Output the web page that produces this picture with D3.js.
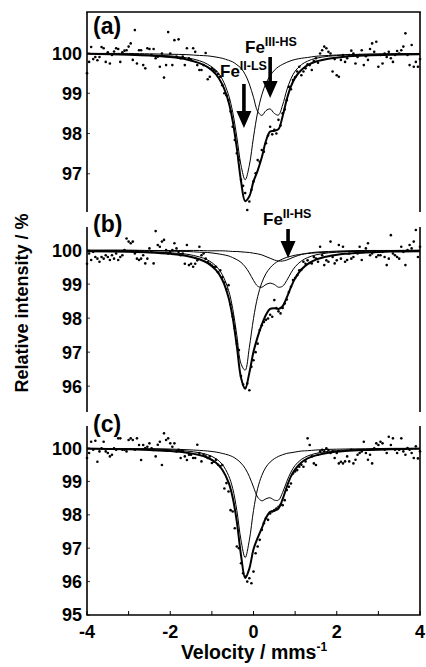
<!DOCTYPE html>
<html>
<head>
<meta charset="utf-8">
<script src="https://cdn.jsdelivr.net/npm/d3@7"></script>
<style>
  html, body { margin: 0; padding: 0; background: #fff; }
  svg { display: block; }
  text { font-family: "Liberation Sans", Arial, Helvetica, sans-serif; font-weight: bold; fill: #000; }
</style>
</head>
<body>
<svg id="chart" width="426" height="667"></svg>
<script>
// Mössbauer spectra: velocity grid of the fitted curves (mm/s)
const fitVelocity = [-4, -3, -2.5, -2, -1.6, -1.3, -1.1, -0.9, -0.75, -0.6, -0.5, -0.4, -0.3, -0.2, -0.1, 0,
  0.1, 0.2, 0.3, 0.4, 0.5, 0.6, 0.7, 0.8, 0.9, 1.0, 1.15, 1.3, 1.5, 1.8, 2.2, 2.7, 3.3, 4];

// (a) fitted sub-spectra and envelope (relative intensity, %)
const aLowSpinFe2 = [99.98, 99.97, 99.95, 99.93, 99.88, 99.81, 99.72, 99.57, 99.35, 98.96, 98.53, 97.91, 97.21, 96.85, 97.21, 97.91,
  98.53, 98.96, 99.25, 99.44, 99.57, 99.66, 99.72, 99.77, 99.81, 99.84, 99.87, 99.89, 99.92, 99.94, 99.96, 99.97, 99.98, 99.99];
const aHighSpinFe3 = [99.99, 99.99, 99.98, 99.97, 99.96, 99.94, 99.93, 99.90, 99.87, 99.82, 99.78, 99.71, 99.62, 99.47, 99.23, 98.90,
  98.55, 98.45, 98.57, 98.61, 98.50, 98.46, 98.71, 99.08, 99.36, 99.55, 99.71, 99.80, 99.87, 99.92, 99.95, 99.97, 99.98, 99.99];
const aEnvelope = [99.98, 99.96, 99.94, 99.90, 99.84, 99.75, 99.65, 99.47, 99.22, 98.79, 98.31, 97.63, 96.82, 96.32, 96.44, 96.81,
  97.08, 97.41, 97.82, 98.05, 98.07, 98.11, 98.43, 98.85, 99.17, 99.39, 99.58, 99.70, 99.79, 99.86, 99.91, 99.94, 99.96, 99.97];

// (b)
const bLowSpinFe2 = [99.98, 99.97, 99.95, 99.92, 99.88, 99.80, 99.71, 99.53, 99.28, 98.82, 98.28, 97.49, 96.66, 96.47, 97.14, 97.99,
  98.63, 99.04, 99.31, 99.48, 99.60, 99.68, 99.74, 99.79, 99.82, 99.85, 99.88, 99.90, 99.92, 99.94, 99.96, 99.97, 99.98, 99.99];
const bHighSpinFe3 = [99.99, 99.99, 99.98, 99.97, 99.96, 99.94, 99.93, 99.90, 99.87, 99.83, 99.78, 99.72, 99.64, 99.51, 99.33, 99.11,
  98.94, 98.91, 98.99, 99.03, 98.99, 98.91, 98.94, 99.11, 99.33, 99.51, 99.68, 99.78, 99.86, 99.92, 99.95, 99.97, 99.98, 99.99];
const bHighSpinFe2 = [100.00, 100.00, 99.99, 99.99, 99.99, 99.99, 99.98, 99.98, 99.98, 99.97, 99.96, 99.96, 99.95, 99.94, 99.93, 99.91,
  99.89, 99.86, 99.81, 99.76, 99.71, 99.68, 99.68, 99.71, 99.76, 99.81, 99.87, 99.91, 99.94, 99.96, 99.98, 99.99, 99.99, 100.00];
const bEnvelope = [99.97, 99.95, 99.93, 99.89, 99.83, 99.73, 99.62, 99.41, 99.13, 98.61, 98.02, 97.17, 96.25, 95.92, 96.39, 97.01,
  97.45, 97.81, 98.10, 98.27, 98.29, 98.27, 98.35, 98.61, 98.91, 99.17, 99.43, 99.59, 99.72, 99.82, 99.89, 99.93, 99.96, 99.97];

// (c)
const cLowSpinFe2 = [99.99, 99.98, 99.97, 99.95, 99.91, 99.86, 99.80, 99.68, 99.51, 99.18, 98.79, 98.13, 97.24, 96.72, 97.24, 98.13,
  98.79, 99.18, 99.43, 99.58, 99.68, 99.75, 99.80, 99.84, 99.86, 99.88, 99.91, 99.92, 99.94, 99.96, 99.97, 99.98, 99.99, 99.99];
const cHighSpinFe3 = [99.99, 99.98, 99.98, 99.97, 99.95, 99.93, 99.91, 99.88, 99.84, 99.79, 99.74, 99.66, 99.55, 99.39, 99.15, 98.83,
  98.53, 98.42, 98.48, 98.51, 98.44, 98.44, 98.67, 99.00, 99.28, 99.48, 99.66, 99.76, 99.84, 99.90, 99.94, 99.96, 99.98, 99.99];
const cEnvelope = [99.98, 99.96, 99.94, 99.91, 99.86, 99.79, 99.71, 99.56, 99.35, 98.97, 98.52, 97.79, 96.79, 96.11, 96.39, 96.97,
  97.31, 97.60, 97.91, 98.09, 98.12, 98.19, 98.47, 98.84, 99.15, 99.36, 99.57, 99.69, 99.78, 99.86, 99.91, 99.94, 99.96, 99.98];

// Measured channels: -4 ... 4 mm/s in 0.05 mm/s steps
const channelVelocity = d3.range(161).map(i => Math.round((-4 + i * 0.05) * 100) / 100);

const aMeasured = [
  99.50, 99.78, 100.15, 99.85, 99.90, 99.82, 99.90, 100.15, 100.12, 99.78,
  100.02, 99.74, 99.95, 100.04, 100.12, 100.10, 99.78, 100.02, 100.06, 100.07,
  100.16, 100.24, 99.83, 100.57, 99.74, 100.07, 100.07, 99.70, 99.62, 100.12,
  100.10, 99.95, 100.10, 99.87, 99.91, 99.66, 99.99, 99.39, 99.70, 100.52,
  99.99, 99.70, 100.32, 99.91, 100.34, 99.87, 99.91, 99.70, 100.12, 99.87,
  99.83, 100.12, 100.03, 99.70, 99.58, 99.58, 99.70, 100.00, 99.35, 99.41,
  99.62,
  99.58, 99.54, 99.48, 99.41, 99.20, 99.00, 98.95, 98.83, 98.55, 98.17,
  97.84, 97.51, 97.34, 96.85, 96.70, 96.52, 96.10, 96.31, 96.60, 96.81,
  97.01, 97.34, 97.30, 97.59, 97.55, 97.76, 97.95, 98.17, 97.98, 98.09,
  98.00, 98.34, 98.20, 98.50, 98.60, 98.83, 99.16, 99.10, 99.33, 99.40,
  99.54, 99.66, 99.45, 99.54, 99.62, 99.72, 99.70, 99.58, 99.80, 99.87,
  99.76, 99.99, 100.07, 100.16, 100.12, 100.03, 99.99, 99.54, 99.85, 99.45,
  99.41, 99.83, 99.95, 99.78, 99.87, 99.95, 100.06, 99.99, 99.74, 99.90,
  99.95, 100.07, 99.70, 99.92, 99.83, 100.10, 100.24, 100.03, 100.28, 99.66,
  99.95, 99.74, 99.99, 99.90, 100.03, 99.87, 99.78, 99.95, 100.05, 99.99,
  100.07, 100.16, 100.49, 99.95, 99.70, 100.20, 99.66, 99.78, 99.66, 99.85];

const bMeasured = [
  99.60, 99.90, 99.71, 99.95, 99.80, 99.75, 99.66, 99.80, 99.75, 99.85,
  99.80, 99.71, 99.85, 99.75, 99.90, 99.71, 99.80, 99.85, 100.00, 100.34,
  100.25, 100.20, 100.25, 99.90, 99.75, 99.71, 99.75, 99.85, 99.61, 99.75,
  100.05, 99.95, 99.61, 100.56, 100.15, 100.10, 100.25, 100.30, 100.00, 99.90,
  99.95, 100.00, 100.20, 100.05, 99.95, 99.85, 99.90, 99.60, 100.15, 99.56,
  99.60, 99.51, 99.60, 99.70, 100.10, 99.85, 99.90, 99.75, 99.65, 99.60,
  99.55,
  99.50, 99.51, 99.35, 99.41, 99.20, 99.05, 98.85, 98.97, 98.40, 98.05,
  97.70, 97.25, 97.06, 96.30, 96.05, 95.95, 96.08, 95.88, 96.57, 96.76,
  97.00, 97.25, 97.65, 97.79, 97.89, 97.95, 97.99, 98.10, 98.04, 98.53,
  98.30, 98.20, 98.14, 98.30, 98.43, 98.55, 98.77, 98.92, 99.12, 99.18,
  99.26, 99.41, 99.42, 99.66, 99.60, 99.70, 99.62, 99.61, 99.80, 99.75,
  99.66, 100.10, 99.85, 99.56, 99.70, 99.66, 100.25, 99.80, 99.61, 99.70,
  100.15, 99.75, 100.10, 99.66, 99.71, 99.90, 99.75, 99.80, 99.95, 99.90,
  100.10, 99.71, 99.95, 100.05, 100.20, 99.85, 99.90, 99.95, 99.80, 99.85,
  99.85, 99.95, 99.80, 99.56, 99.75, 100.44, 99.90, 99.85, 99.80, 99.75,
  100.10, 99.95, 99.56, 100.00, 100.15, 100.05, 100.25, 100.59, 99.80, 100.10];

const cMeasured = [
  99.70, 99.85, 100.19, 99.95, 100.22, 99.59, 99.90, 99.99, 100.19, 99.90,
  99.85, 99.75, 99.80, 99.99, 99.95, 100.29, 100.29, 99.95, 99.95, 99.90,
  100.24, 100.29, 100.24, 99.95, 100.29, 100.09, 99.64, 100.09, 100.00, 100.04,
  100.14, 99.99, 99.94, 99.75, 100.10, 100.19, 99.49, 100.44, 100.24, 100.29,
  100.14, 100.04, 100.14, 99.90, 99.95, 99.70, 99.90, 99.75, 99.64, 99.80,
  99.80, 99.70, 99.70, 100.10, 99.85, 99.60, 99.80, 99.75, 99.70, 99.75,
  99.55,
  99.59, 99.65, 99.50, 99.45, 99.49, 98.79, 98.95, 98.70, 98.14, 98.10,
  97.60, 97.05, 97.00, 96.55, 96.25, 96.15, 96.00, 96.10, 95.95, 96.30,
  96.85, 97.05, 97.25, 97.55, 97.75, 97.90, 97.85, 98.04, 98.10, 98.14,
  98.19, 98.24, 98.30, 98.29, 98.44, 98.74, 98.84, 98.94, 99.24, 99.30,
  99.34, 99.44, 99.50, 99.44, 99.60, 100.29, 100.09, 99.75, 99.54, 99.49,
  99.80, 99.90, 99.95, 99.90, 99.99, 99.94, 99.85, 99.90, 99.70, 99.85,
  99.54, 99.59, 99.54, 99.60, 99.75, 99.60, 99.95, 99.54, 99.65, 99.80,
  99.85, 99.90, 100.19, 99.85, 99.65, 99.80, 99.54, 99.99, 100.14, 100.09,
  100.19, 100.14, 99.95, 99.85, 100.34, 100.09, 100.29, 99.95, 99.85, 99.95,
  100.29, 99.90, 99.80, 100.00, 99.95, 99.85, 99.70, 100.05, 99.69, 99.90];

// Tick values
const velocityTicks = [-4, -3, -2, -1, 0, 1, 2, 3, 4];
const velocityLabels = [-4, -2, 0, 2, 4];
const aTicks = [97, 98, 99, 100];
const bTicks = [96, 97, 98, 99, 100];
const cTicks = [95, 96, 97, 98, 99, 100];

const svg = d3.select("#chart");
const left = 87, right = 420;
const x = d3.scaleLinear().domain([-4, 4]).range([left, right]);

const panels = [
  { label: "(a)", measured: aMeasured, envelope: aEnvelope, parts: [aLowSpinFe2, aHighSpinFe3], ticks: aTicks,
    y: d3.scaleLinear().domain([96.05, 101.02]).range([212, 12]), labelY: 34, top: true },
  { label: "(b)", measured: bMeasured, envelope: bEnvelope, parts: [bLowSpinFe2, bHighSpinFe3, bHighSpinFe2], ticks: bTicks,
    y: d3.scaleLinear().domain([95.24, 100.68]).range([412, 227]), labelY: 232 },
  { label: "(c)", measured: cMeasured, envelope: cEnvelope, parts: [cLowSpinFe2, cHighSpinFe3], ticks: cTicks,
    y: d3.scaleLinear().domain([95, 100.66]).range([615, 426]), labelY: 432, bottom: true }
];

panels.forEach(p => {
  const g = svg.append("g");
  const [y0, y1] = p.y.range();   // bottom, top

  // side frame lines
  g.append("line").attr("x1", left).attr("x2", left).attr("y1", y1).attr("y2", y0)
    .attr("stroke", "#000").attr("stroke-width", 1.6);
  g.append("line").attr("x1", right).attr("x2", right).attr("y1", y1).attr("y2", y0)
    .attr("stroke", "#000").attr("stroke-width", 1.6);
  if (p.top) {
    g.append("line").attr("x1", left - 0.8).attr("x2", right + 0.8).attr("y1", y1).attr("y2", y1)
      .attr("stroke", "#000").attr("stroke-width", 1.6);
  }

  // y ticks (inward) and labels
  g.selectAll(".yt").data(p.ticks).join("line")
    .attr("x1", left).attr("x2", left + 3)
    .attr("y1", d => p.y(d)).attr("y2", d => p.y(d))
    .attr("stroke", "#000").attr("stroke-width", 0.8);
  g.selectAll(".yl").data(p.ticks).join("text")
    .attr("x", left - 5).attr("y", d => p.y(d)).attr("dy", "0.36em")
    .attr("text-anchor", "end").attr("font-size", 18)
    .text(d => d);

  // measured points
  g.selectAll(".pt").data(p.measured).join("circle")
    .attr("cx", (d, i) => x(channelVelocity[i]))
    .attr("cy", d => p.y(d))
    .attr("r", 1.3).attr("fill", "#000");

  const line = d3.line()
    .x((d, i) => x(fitVelocity[i]))
    .y(d => p.y(d))
    .curve(d3.curveCatmullRom.alpha(0.5));

  // sub-spectra (thin) and envelope (thick)
  p.parts.forEach(s => {
    g.append("path").datum(s).attr("d", line)
      .attr("fill", "none").attr("stroke", "#000").attr("stroke-width", 1);
  });
  g.append("path").datum(p.envelope).attr("d", line)
    .attr("fill", "none").attr("stroke", "#000").attr("stroke-width", 2);

  // panel letter
  g.append("text").attr("x", 93).attr("y", p.labelY).attr("font-size", 23).text(p.label);

  if (p.bottom) {
    g.append("line").attr("x1", left - 0.8).attr("x2", right + 0.8).attr("y1", y0).attr("y2", y0)
      .attr("stroke", "#000").attr("stroke-width", 1.6);
    g.selectAll(".xt").data(velocityTicks).join("line")
      .attr("x1", d => x(d)).attr("x2", d => x(d))
      .attr("y1", y0).attr("y2", y0 - 4)
      .attr("stroke", "#000").attr("stroke-width", 1);
    g.selectAll(".xl").data(velocityLabels).join("text")
      .attr("x", d => x(d)).attr("y", y0 + 23)
      .attr("text-anchor", "middle").attr("font-size", 18)
      .text(d => String(d));
  }
});

// arrows pointing at the sub-spectra
function arrow(cx, yStart, yTip) {
  const headH = 17, headW = 7.5, shaft = 1.8;
  svg.append("path")
    .attr("d", `M${cx - shaft},${yStart} L${cx + shaft},${yStart} L${cx + shaft},${yTip - headH}
      L${cx + headW},${yTip - headH} L${cx},${yTip} L${cx - headW},${yTip - headH}
      L${cx - shaft},${yTip - headH} Z`)
    .attr("fill", "#000");
}
function feLabel(xPos, yPos, sup) {
  const t = svg.append("text").attr("x", xPos).attr("y", yPos).attr("font-size", 17);
  t.append("tspan").text("Fe");
  t.append("tspan").attr("font-size", 12.5).attr("dy", -7).text(sup);
}

const pa = panels[0], pb = panels[1];
feLabel(245, 53, "III-HS");
arrow(x(0.4), 57, 98);
feLabel(220, 77, "II-LS");
arrow(x(-0.23), 84, 128);
feLabel(263, 225, "II-HS");
arrow(x(0.83), 229, 258);

// axis titles
svg.append("text")
  .attr("transform", "translate(28,303) rotate(-90)")
  .attr("text-anchor", "middle").attr("font-size", 18)
  .text("Relative intensity / %");

const xt = svg.append("text").attr("x", 254).attr("y", 659)
  .attr("text-anchor", "middle").attr("font-size", 19.5);
xt.append("tspan").text("Velocity / mms");
xt.append("tspan").attr("font-size", 12).attr("dy", -8).text("-1");
</script>
</body>
</html>
